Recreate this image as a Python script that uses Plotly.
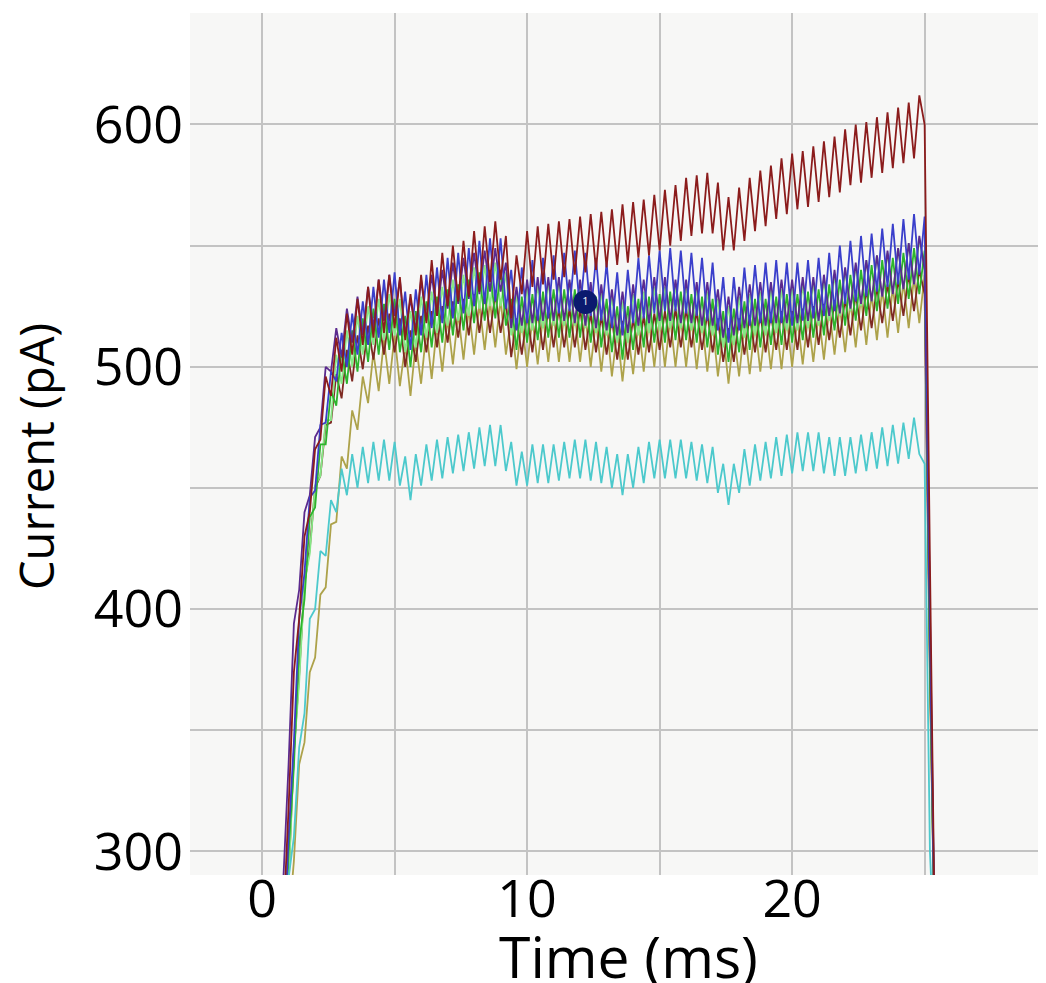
import plotly.graph_objects as go

# Sampling times (ms)
time_ms = [
    0.8, 1.0, 1.2, 1.4, 1.6, 1.8, 2.0, 2.2, 2.4, 2.6,
    2.8, 3.0, 3.2, 3.4, 3.6, 3.8, 4.0, 4.2, 4.4, 4.6,
    4.8, 5.0, 5.2, 5.4, 5.6, 5.8, 6.0, 6.2, 6.4, 6.6,
    6.8, 7.0, 7.2, 7.4, 7.6, 7.8, 8.0, 8.2, 8.4, 8.6,
    8.8, 9.0, 9.2, 9.4, 9.6, 9.8, 10.0, 10.2, 10.4, 10.6,
    10.8, 11.0, 11.2, 11.4, 11.6, 11.8, 12.0, 12.2, 12.4, 12.6,
    12.8, 13.0, 13.2, 13.4, 13.6, 13.8, 14.0, 14.2, 14.4, 14.6,
    14.8, 15.0, 15.2, 15.4, 15.6, 15.8, 16.0, 16.2, 16.4, 16.6,
    16.8, 17.0, 17.2, 17.4, 17.6, 17.8, 18.0, 18.2, 18.4, 18.6,
    18.8, 19.0, 19.2, 19.4, 19.6, 19.8, 20.0, 20.2, 20.4, 20.6,
    20.8, 21.0, 21.2, 21.4, 21.6, 21.8, 22.0, 22.2, 22.4, 22.6,
    22.8, 23.0, 23.2, 23.4, 23.6, 23.8, 24.0, 24.2, 24.4, 24.6,
    24.8, 25.0, 25.2, 25.4,
]

# Current traces (pA)
olive = [
    238, 270, 296, 336, 345, 374, 380, 406, 409, 435,
    436, 463, 458, 482, 474, 496, 485, 506, 490, 511,
    493, 513, 492, 509, 488, 510, 493, 515, 495, 517,
    498, 520, 501, 522, 503, 524, 505, 526, 507, 527,
    508, 528, 505, 520, 499, 519, 500, 520, 501, 521,
    502, 522, 502, 522, 502, 522, 502, 521, 500, 519,
    498, 518, 496, 515, 494, 515, 497, 518, 498, 519,
    500, 520, 500, 520, 500, 520, 500, 520, 499, 519,
    498, 518, 496, 514, 493, 514, 496, 517, 497, 518,
    498, 518, 499, 519, 499, 520, 500, 520, 501, 521,
    502, 522, 503, 524, 505, 525, 506, 527, 508, 529,
    509, 530, 511, 532, 512, 533, 514, 535, 516, 537,
    518, 538, 370, 250,
]

brown = [
    255, 289, 341, 373, 411, 425, 450, 455, 476, 477,
    497, 487, 507, 494, 513, 499, 517, 503, 520, 505,
    522, 506, 520, 500, 515, 502, 521, 506, 523, 508,
    525, 510, 527, 512, 528, 513, 530, 514, 530, 514,
    530, 514, 527, 504, 520, 505, 522, 506, 523, 507,
    524, 508, 524, 508, 524, 508, 524, 507, 522, 506,
    521, 505, 520, 503, 519, 503, 520, 505, 521, 506,
    522, 507, 523, 508, 524, 508, 524, 508, 523, 507,
    522, 506, 520, 502, 516, 502, 520, 505, 521, 506,
    522, 506, 522, 507, 523, 507, 523, 507, 524, 508,
    525, 509, 526, 511, 527, 512, 528, 513, 530, 515,
    532, 516, 533, 518, 534, 519, 536, 521, 538, 523,
    540, 530, 375, 250,
]

light_green = [
    254, 286, 341, 370, 411, 423, 451, 455, 478, 478,
    505, 493, 515, 500, 521, 505, 525, 509, 528, 511,
    530, 513, 528, 506, 523, 508, 529, 512, 531, 514,
    533, 517, 536, 519, 538, 521, 541, 524, 542, 525,
    543, 525, 539, 513, 530, 514, 533, 515, 534, 516,
    535, 517, 535, 517, 535, 517, 535, 516, 533, 514,
    531, 513, 529, 510, 527, 510, 530, 513, 531, 514,
    533, 515, 533, 516, 534, 516, 534, 515, 533, 514,
    531, 513, 528, 508, 525, 509, 529, 512, 530, 513,
    531, 513, 532, 514, 532, 515, 533, 515, 534, 516,
    535, 517, 536, 519, 538, 521, 540, 523, 542, 525,
    544, 527, 546, 529, 547, 530, 549, 532, 551, 534,
    553, 540, 385, 250,
]

green = [
    252, 300, 335, 386, 404, 438, 442, 468, 468, 490,
    484, 507, 493, 515, 498, 520, 502, 524, 505, 526,
    507, 528, 506, 521, 500, 523, 506, 527, 508, 529,
    510, 532, 513, 534, 515, 536, 518, 539, 519, 540,
    520, 540, 517, 528, 507, 529, 510, 530, 511, 531,
    512, 532, 512, 532, 512, 532, 512, 531, 510, 529,
    508, 528, 506, 525, 503, 525, 507, 528, 508, 529,
    510, 530, 510, 531, 511, 531, 511, 530, 510, 529,
    508, 528, 505, 523, 502, 524, 506, 527, 507, 528,
    508, 528, 509, 529, 509, 530, 510, 530, 511, 531,
    512, 532, 513, 534, 515, 536, 517, 538, 519, 540,
    521, 542, 523, 544, 524, 545, 526, 547, 528, 549,
    530, 548, 380, 250,
]

purple = [
    288, 336, 394, 408, 440, 447, 471, 475, 500, 498,
    516, 504, 524, 510, 529, 513, 533, 516, 536, 519,
    538, 521, 536, 513, 528, 515, 536, 519, 538, 521,
    540, 524, 543, 526, 545, 528, 547, 530, 548, 531,
    549, 531, 543, 516, 533, 517, 536, 518, 537, 519,
    537, 519, 537, 519, 536, 518, 536, 517, 535, 516,
    534, 515, 532, 513, 531, 514, 534, 517, 536, 518,
    537, 519, 537, 519, 536, 518, 536, 518, 535, 517,
    535, 517, 532, 512, 529, 513, 533, 516, 534, 517,
    535, 517, 535, 518, 536, 518, 536, 518, 537, 519,
    537, 519, 538, 521, 540, 522, 541, 524, 543, 526,
    544, 527, 546, 529, 548, 530, 549, 532, 551, 534,
    554, 540, 390, 250,
]

blue = [
    256, 306, 345, 396, 415, 446, 449, 476, 477, 498,
    494, 514, 500, 522, 505, 527, 509, 533, 512, 536,
    514, 539, 513, 531, 507, 532, 513, 538, 516, 541,
    518, 545, 520, 547, 522, 549, 525, 552, 526, 553,
    527, 553, 524, 540, 515, 541, 518, 544, 519, 545,
    520, 546, 522, 547, 523, 548, 523, 547, 521, 545,
    519, 543, 516, 539, 513, 540, 518, 545, 520, 546,
    522, 548, 523, 549, 523, 548, 522, 547, 521, 545,
    519, 543, 515, 537, 510, 537, 515, 541, 517, 542,
    518, 543, 518, 544, 518, 543, 517, 543, 519, 544,
    520, 545, 521, 547, 523, 550, 526, 552, 527, 554,
    529, 555, 531, 557, 533, 559, 534, 561, 536, 563,
    538, 562, 400, 250,
]

maroon = [
    270, 318, 374, 396, 430, 440, 466, 470, 496, 488,
    512, 498, 522, 505, 528, 509, 533, 512, 536, 514,
    538, 516, 537, 511, 530, 513, 538, 518, 544, 521,
    547, 525, 550, 527, 552, 529, 556, 531, 558, 535,
    560, 536, 554, 520, 546, 530, 556, 533, 558, 534,
    559, 536, 560, 537, 561, 538, 562, 539, 563, 540,
    564, 541, 565, 542, 567, 543, 568, 545, 569, 546,
    571, 548, 573, 550, 575, 552, 578, 554, 579, 555,
    580, 555, 576, 548, 570, 548, 574, 552, 578, 556,
    581, 558, 583, 561, 586, 563, 588, 565, 589, 566,
    591, 568, 593, 570, 595, 572, 598, 575, 600, 576,
    601, 578, 603, 580, 605, 582, 607, 584, 609, 586,
    612, 600, 420, 250,
]

cyan = [
    252, 289, 306, 343, 357, 396, 400, 424, 422, 445,
    440, 458, 447, 464, 450, 467, 452, 469, 453, 470,
    453, 469, 451, 463, 445, 464, 451, 468, 453, 470,
    454, 471, 456, 472, 457, 473, 458, 475, 459, 476,
    459, 476, 457, 469, 451, 465, 451, 468, 452, 468,
    452, 468, 453, 469, 454, 470, 454, 470, 453, 469,
    452, 467, 450, 464, 447, 464, 450, 467, 452, 469,
    454, 470, 454, 470, 454, 470, 454, 469, 453, 468,
    452, 467, 448, 460, 443, 460, 448, 466, 451, 468,
    453, 469, 454, 471, 455, 472, 456, 473, 457, 473,
    457, 473, 456, 471, 455, 471, 455, 471, 456, 472,
    457, 473, 458, 475, 459, 476, 460, 477, 462, 479,
    464, 460, 300, 250,
]

series = [
    ("olive", olive, "#ADA24A"),
    ("brown", brown, "#7E2A22"),
    ("light green", light_green, "#86E886"),
    ("green", green, "#2DB52D"),
    ("purple", purple, "#5B2A8E"),
    ("blue", blue, "#3A3FCB"),
    ("maroon", maroon, "#8B1C1C"),
    ("cyan", cyan, "#4CC9CC"),
]

# Cursor marker "1"
cursor_x = [12.2]
cursor_y = [526.7]
cursor_label = ["1"]

x_tickvals = [0, 5, 10, 15, 20, 25]
x_ticktext = ["0", "", "10", "", "20", ""]
y_tickvals = [300, 350, 400, 450, 500, 550, 600]
y_ticktext = ["300", "", "400", "", "500", "", "600"]

x_title = "Time (ms)"
y_title = "Current (pA)"

fig = go.Figure()
for name, vals, col in series:
    fig.add_trace(go.Scatter(
        x=time_ms, y=vals, mode="lines", name=name,
        line=dict(color=col, width=1.8), showlegend=False,
        hoverinfo="skip",
    ))

fig.add_trace(go.Scatter(
    x=cursor_x, y=cursor_y, mode="markers+text", text=cursor_label,
    textposition="middle center",
    textfont=dict(color="white", size=11, family="Open Sans"),
    marker=dict(symbol="circle", size=24, color="#0B1A6E",
                line=dict(width=0)),
    showlegend=False, hoverinfo="skip",
))

font_family = "Open Sans"
fig.update_layout(
    width=1038, height=975,
    margin=dict(l=182, r=0, t=5, b=108),
    paper_bgcolor="white",
    plot_bgcolor="#F7F7F6",
    font=dict(family=font_family, color="black"),
    showlegend=False,
    annotations=[
        dict(text=x_title, xref="paper", yref="paper", x=0.5123, y=-0.094,
             xanchor="center", yanchor="middle", showarrow=False,
             font=dict(size=57, family=font_family, color="black")),
        dict(text=y_title, xref="paper", yref="paper", x=-0.18, y=0.486,
             xanchor="center", yanchor="middle", showarrow=False, textangle=-90,
             font=dict(size=47, family=font_family, color="black")),
    ],
)
fig.update_xaxes(
    range=[-2.72, 29.58], tickmode="array",
    tickvals=x_tickvals, ticktext=x_ticktext,
    showgrid=True, gridcolor="#C3C3C3", gridwidth=2,
    zeroline=False, showline=False, ticks="",
    tickfont=dict(size=52, family=font_family),
    ticklabelstandoff=-11,
    automargin=False,
)
fig.update_yaxes(
    range=[290.3, 646.0], tickmode="array",
    tickvals=y_tickvals, ticktext=y_ticktext,
    showgrid=True, gridcolor="#C3C3C3", gridwidth=2,
    zeroline=False, showline=False, ticks="",
    tickfont=dict(size=52, family=font_family),
    ticklabelstandoff=6,
    automargin=False,
)

fig.write_html("out.html")
